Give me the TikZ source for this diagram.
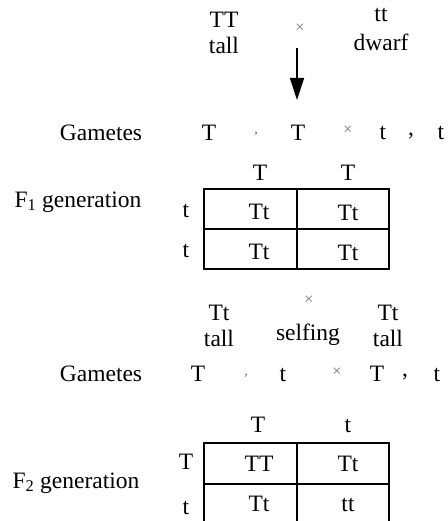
\documentclass[tikz,border=0pt]{standalone}
\usepackage{fontspec}
\setmainfont{Liberation Serif}
\usetikzlibrary{arrows.meta}
\begin{document}
\begin{tikzpicture}[x=1pt,y=-1pt,
  txt/.style={inner sep=0pt,font=\fontsize{23.5}{26}\selectfont},
  crs/.style={inner sep=0pt,text=black!55,font=\fontsize{16}{18}\selectfont},
  smc/.style={inner sep=0pt,text=black!60,font=\fontsize{14}{16}\selectfont},
  grid/.style={line width=1.4pt},
  arr/.style={line width=1.3pt,-{Triangle[length=22pt,width=14pt]}}]
\useasboundingbox (0,0) rectangle (447,521);
% first cross
\node[txt] (p1) at (224,20) {TT};
\node[txt] (p1t) at (224,45) {tall};
\node[crs] (x1) at (300,28) {×};
\node[txt] (p2) at (381,15) {tt};
\node[txt] (p2t) at (381,42) {dwarf};
\coordinate (a1) at (297,48);
\coordinate (a2) at (297,100);
\draw[arr] (a1) -- (a2);
% gametes 1
\node[txt] (g1) at (101,133) {Gametes};
\node[txt] (g1a) at (209,133) {T};
\node[smc] (g1c1) at (256,134) {,};
\node[txt] (g1b) at (298,133) {T};
\node[crs] (g1x) at (348,130) {×};
\node[txt] (g1d) at (383,133) {t};
\node[txt] (g1c2) at (411,136) {,};
\node[txt] (g1e) at (441,133) {t};
% F1 table
\node[txt] (h1a) at (260,173) {T};
\node[txt] (h1b) at (348,173) {T};
\node[txt] (f1) at (78,202) {F\textsubscript{1} generation};
\node[txt] (r1a) at (186,211) {t};
\node[txt] (r1b) at (186,251) {t};
\draw[grid] (204,189) rectangle (389,269);
\draw[grid] (204,229) -- (389,229);
\draw[grid] (297,189) -- (297,269);
\node[txt] (c11) at (259,212) {Tt};
\node[txt] (c12) at (348,213) {Tt};
\node[txt] (c21) at (259,252) {Tt};
\node[txt] (c22) at (348,253) {Tt};
% second cross
\node[txt] (q1) at (219,313) {Tt};
\node[txt] (q1t) at (219,338) {tall};
\node[crs] (x2) at (309,300) {×};
\node[txt] (sf) at (308,335) {selfing};
\node[txt] (q2) at (388,313) {Tt};
\node[txt] (q2t) at (388,338) {tall};
% gametes 2
\node[txt] (g2) at (101,374) {Gametes};
\node[txt] (g2a) at (198,374) {T};
\node[smc] (g2c1) at (246,376) {,};
\node[txt] (g2b) at (283,375) {t};
\node[crs] (g2x) at (337,372) {×};
\node[txt] (g2d) at (377,374) {T};
\node[txt] (g2c2) at (405,377) {,};
\node[txt] (g2e) at (437,375) {t};
% F2 table
\node[txt] (h2a) at (258,425) {T};
\node[txt] (h2b) at (348,426) {t};
\node[txt] (f2) at (76,483) {F\textsubscript{2} generation};
\node[txt] (r2a) at (186,462) {T};
\node[txt] (r2b) at (186,508) {t};
\draw[grid] (204,530) -- (204,443) -- (389,443) -- (389,530);
\draw[grid] (204,484) -- (389,484);
\draw[grid] (297,443) -- (297,530);
\node[txt] (d11) at (259,464) {TT};
\node[txt] (d12) at (348,464) {Tt};
\node[txt] (d21) at (259,504) {Tt};
\node[txt] (d22) at (348,505) {tt};
\end{tikzpicture}
\end{document}
